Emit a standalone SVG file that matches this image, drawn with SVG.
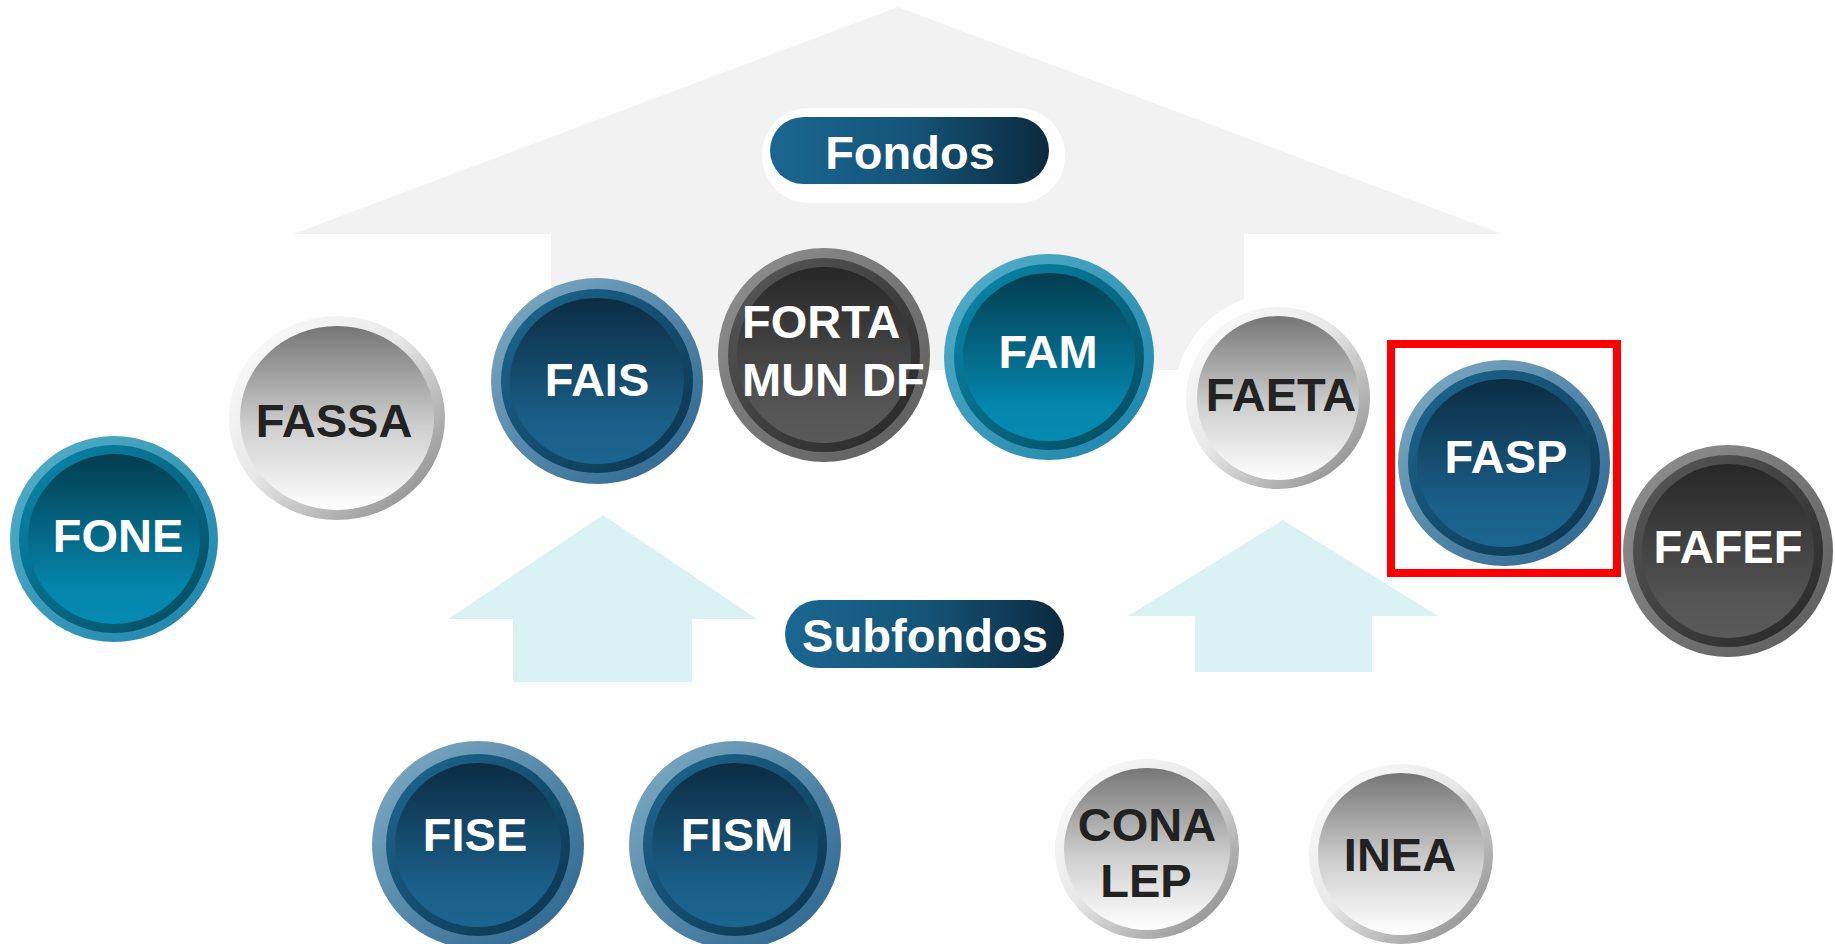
<svg xmlns="http://www.w3.org/2000/svg" width="1835" height="944" viewBox="0 0 1835 944">
<defs>
<linearGradient id="bOut" x1="0" y1="0" x2="1" y2="1"><stop offset="0" stop-color="#82aec6"/><stop offset="1" stop-color="#27618c"/></linearGradient>
<linearGradient id="bMid" x1="0" y1="0" x2="1" y2="1"><stop offset="0" stop-color="#1d6993"/><stop offset="1" stop-color="#0b324c"/></linearGradient>
<linearGradient id="bIn" x1="0" y1="0" x2="0" y2="1"><stop offset="0" stop-color="#0c2c43"/><stop offset="0.75" stop-color="#1a5f88"/><stop offset="1" stop-color="#1b6590"/></linearGradient>
<linearGradient id="tOut" x1="0" y1="0" x2="1" y2="1"><stop offset="0" stop-color="#56b0c9"/><stop offset="1" stop-color="#1b83a9"/></linearGradient>
<linearGradient id="tMid" x1="0" y1="0" x2="1" y2="1"><stop offset="0" stop-color="#0988ae"/><stop offset="1" stop-color="#04495c"/></linearGradient>
<linearGradient id="tIn" x1="0" y1="0" x2="0" y2="1"><stop offset="0" stop-color="#033d4f"/><stop offset="0.8" stop-color="#0586ad"/><stop offset="1" stop-color="#058ab1"/></linearGradient>
<linearGradient id="dOut" x1="0" y1="0" x2="1" y2="1"><stop offset="0" stop-color="#929292"/><stop offset="1" stop-color="#5a5a5a"/></linearGradient>
<linearGradient id="dMid" x1="0" y1="0" x2="1" y2="1"><stop offset="0" stop-color="#5a5a5a"/><stop offset="1" stop-color="#262626"/></linearGradient>
<linearGradient id="dIn" x1="0" y1="0" x2="0" y2="1"><stop offset="0" stop-color="#272727"/><stop offset="0.8" stop-color="#555555"/><stop offset="1" stop-color="#5a5a5a"/></linearGradient>
<linearGradient id="sOut" x1="0" y1="0" x2="1" y2="1"><stop offset="0" stop-color="#ffffff"/><stop offset="0.45" stop-color="#e8e8e8"/><stop offset="1" stop-color="#7e7e7e"/></linearGradient>
<linearGradient id="sIn" x1="0" y1="0" x2="0" y2="1"><stop offset="0" stop-color="#767676"/><stop offset="0.55" stop-color="#cfcfcf"/><stop offset="1" stop-color="#ffffff"/></linearGradient>
<linearGradient id="pill" x1="0" y1="0" x2="1" y2="0"><stop offset="0" stop-color="#1b6792"/><stop offset="0.5" stop-color="#155478"/><stop offset="1" stop-color="#0b2a3f"/></linearGradient>
<style>
.lw{font-family:"Liberation Sans",Arial,sans-serif;font-weight:bold;font-size:47px;fill:#ffffff;text-anchor:middle}
.ld{font-family:"Liberation Sans",Arial,sans-serif;font-weight:bold;font-size:47px;fill:#222222;text-anchor:middle}
.bo{fill:url(#bOut)}.bm{fill:url(#bMid)}.bi{fill:url(#bIn)}
.to{fill:url(#tOut)}.tm{fill:url(#tMid)}.ti{fill:url(#tIn)}
.do{fill:url(#dOut)}.dm{fill:url(#dMid)}.di{fill:url(#dIn)}
.so{fill:url(#sOut)}.si{fill:url(#sIn)}
</style>
</defs>
<rect width="1835" height="944" fill="#ffffff"/>

<g id="connectors">
<polygon id="arrow-fondos" points="898,7 1502,234 1244,234 1244,370 551,370 551,234 293,234" fill="#f2f2f2"/>
<polygon id="arrow-sub-left" points="603,515 757,619 692,619 692,682 513,682 513,619 448,619" fill="#dbf2f5"/>
<polygon id="arrow-sub-right" points="1283,520 1438,616 1372,616 1372,672 1195,672 1195,616 1128,616" fill="#dbf2f5"/>
</g>

<g id="label-fondos">
<rect x="762" y="108" width="303" height="95" rx="47" fill="#ffffff"/>
<rect x="770" y="117" width="279" height="67" rx="33.5" fill="url(#pill)"/>
<text class="lw" x="910" y="169">Fondos</text>
</g>

<g id="label-subfondos">
<rect x="785" y="600" width="279" height="68" rx="34" fill="url(#pill)"/>
<text class="lw" x="925" y="652" textLength="246" lengthAdjust="spacingAndGlyphs">Subfondos</text>
</g>

<g id="node-fone">
<ellipse class="to" cx="114" cy="539" rx="104" ry="103"/>
<ellipse class="tm" cx="114" cy="539" rx="95" ry="94"/>
<ellipse class="ti" cx="114" cy="539" rx="86" ry="85"/>
<text class="lw" x="118" y="552">FONE</text>
</g>

<g id="node-fassa">
<ellipse class="so" cx="337" cy="418" rx="108" ry="102"/>
<ellipse class="si" cx="337" cy="418" rx="97" ry="92"/>
<text class="ld" x="334" y="437">FASSA</text>
</g>

<g id="node-fais">
<ellipse class="bo" cx="597" cy="381" rx="106" ry="103"/>
<ellipse class="bm" cx="597" cy="381" rx="96" ry="92"/>
<ellipse class="bi" cx="597" cy="381" rx="87" ry="83"/>
<text class="lw" x="597" y="396">FAIS</text>
</g>

<g id="node-fortamundf">
<ellipse class="do" cx="824" cy="355" rx="106" ry="107"/>
<ellipse class="dm" cx="824" cy="355" rx="96" ry="97"/>
<ellipse class="di" cx="824" cy="355" rx="87" ry="88"/>
<text class="lw" x="742" y="338" style="text-anchor:start">FORTA</text>
<text class="lw" x="742" y="396" style="text-anchor:start">MUN DF</text>
</g>

<g id="node-fam">
<ellipse class="to" cx="1049" cy="357" rx="105" ry="103"/>
<ellipse class="tm" cx="1049" cy="357" rx="95" ry="93"/>
<ellipse class="ti" cx="1049" cy="357" rx="86" ry="84"/>
<text class="lw" x="1048" y="368">FAM</text>
</g>

<g id="node-faeta">
<ellipse cx="1280" cy="398" rx="106" ry="105" fill="#ffffff"/>
<ellipse class="so" cx="1278" cy="398" rx="92" ry="91"/>
<ellipse class="si" cx="1278" cy="398" rx="81" ry="82"/>
<text class="ld" x="1281" y="411">FAETA</text>
</g>

<g id="node-fasp">
<rect x="1391" y="344" width="226" height="229" fill="none" stroke="#ff0000" stroke-width="8"/>
<ellipse class="bo" cx="1504" cy="463" rx="106" ry="103"/>
<ellipse class="bm" cx="1504" cy="463" rx="96" ry="93"/>
<ellipse class="bi" cx="1504" cy="463" rx="87" ry="84"/>
<text class="lw" x="1506" y="473">FASP</text>
</g>

<g id="node-fafef">
<ellipse class="do" cx="1728" cy="551" rx="105" ry="106"/>
<ellipse class="dm" cx="1728" cy="551" rx="95" ry="96"/>
<ellipse class="di" cx="1728" cy="551" rx="86" ry="87"/>
<text class="lw" x="1728" y="563">FAFEF</text>
</g>

<g id="node-fise">
<ellipse class="bo" cx="478" cy="845" rx="106" ry="104"/>
<ellipse class="bm" cx="478" cy="845" rx="92" ry="91"/>
<ellipse class="bi" cx="478" cy="845" rx="83" ry="82"/>
<text class="lw" x="475" y="851">FISE</text>
</g>

<g id="node-fism">
<ellipse class="bo" cx="735" cy="845" rx="106" ry="104"/>
<ellipse class="bm" cx="735" cy="845" rx="92" ry="91"/>
<ellipse class="bi" cx="735" cy="845" rx="83" ry="82"/>
<text class="lw" x="737" y="851">FISM</text>
</g>

<g id="node-conalep">
<ellipse class="so" cx="1147" cy="849" rx="92" ry="90"/>
<ellipse class="si" cx="1147" cy="849" rx="83" ry="81"/>
<text class="ld" x="1147" y="841">CONA</text>
<text class="ld" x="1146" y="897">LEP</text>
</g>

<g id="node-inea">
<ellipse class="so" cx="1401" cy="854" rx="92" ry="90"/>
<ellipse class="si" cx="1401" cy="854" rx="83" ry="81"/>
<text class="ld" x="1400" y="871">INEA</text>
</g>
</svg>
